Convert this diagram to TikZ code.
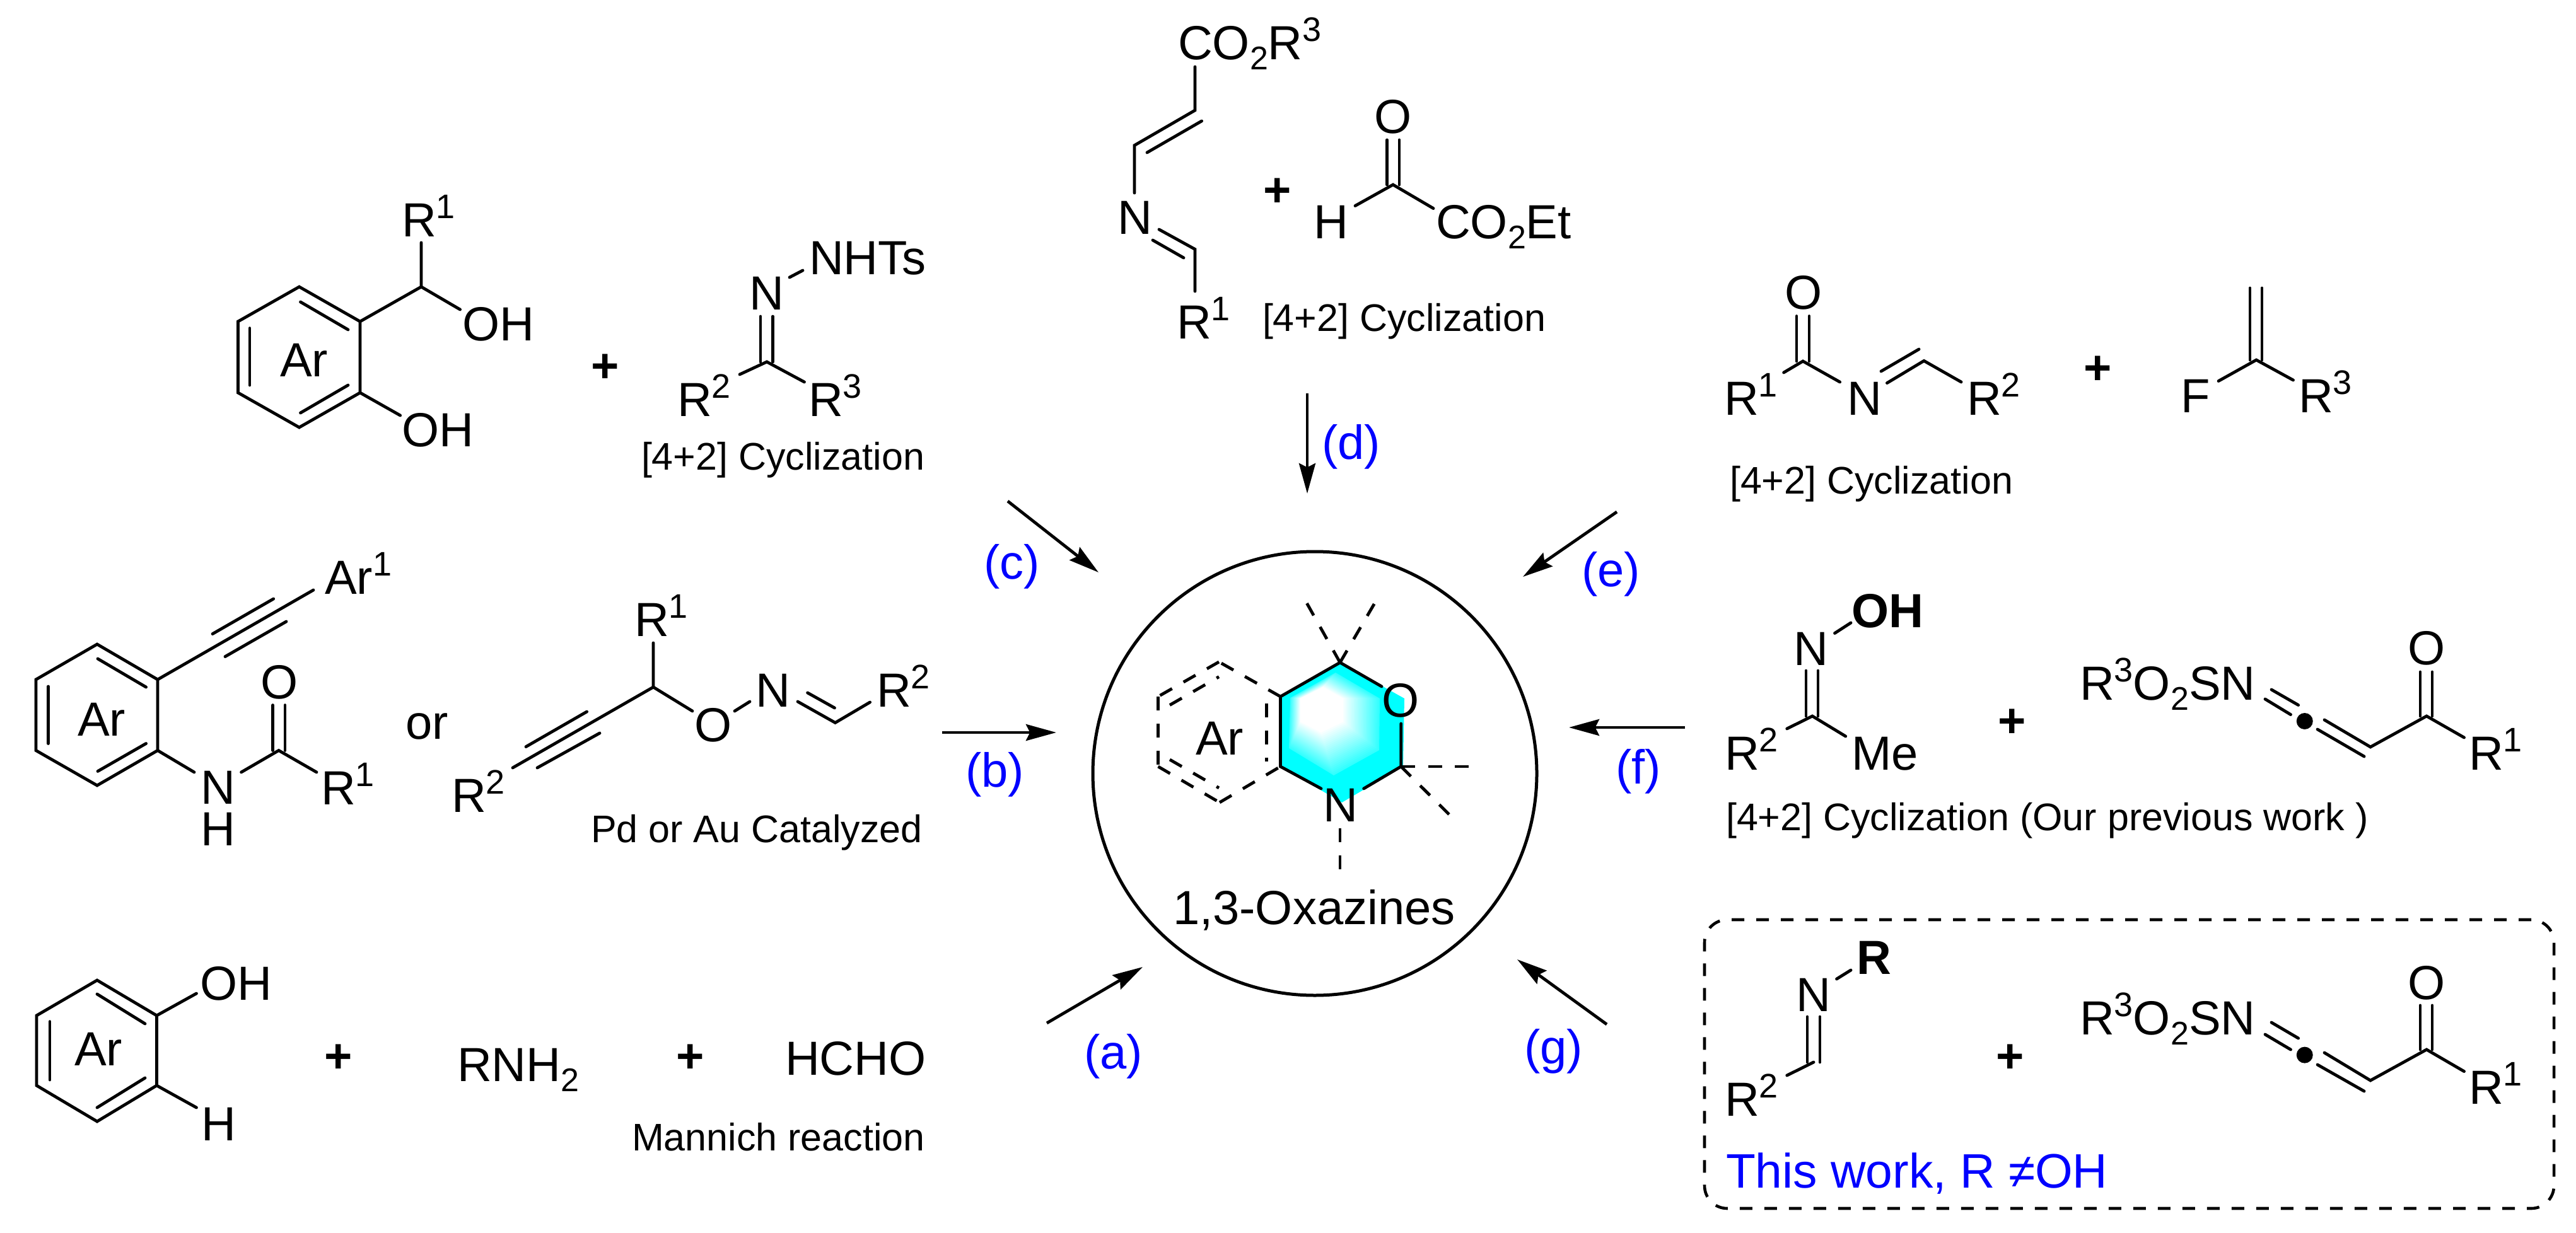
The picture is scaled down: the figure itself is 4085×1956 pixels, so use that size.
\documentclass[tikz,border=0pt]{standalone}
\usepackage{fontspec}
\usetikzlibrary{arrows.meta,calc}
\setmainfont{Liberation Sans}
\definecolor{cy}{RGB}{0,255,255}
\definecolor{lblue}{RGB}{0,0,255}
\newcommand\upn[1]{\raisebox{7.25pt}{\fontsize{13.5}{13.5}\selectfont #1}}
\newcommand\dnn[1]{\raisebox{-4pt}{\fontsize{13}{13}\selectfont #1}}
\tikzset{
  lbl/.style={anchor=base west,inner sep=0pt,outer sep=0pt,font=\fontsize{19}{19}\selectfont},
  sml/.style={lbl,font=\fontsize{15.25}{15.25}\selectfont},
  tag/.style={lbl,text=lblue},
  plusn/.style={anchor=center,inner sep=0pt,outer sep=0pt,font=\fontsize{19}{19}\selectfont\bfseries},
  bond/.style={line width=1.2pt,line join=miter,line cap=round},
  dbond/.style={line width=1.2pt,dash pattern=on 5.5pt off 5.2pt},
  rxn/.style={line width=1.2pt,-{Stealth[length=12pt,width=6.5pt,inset=1.6pt]}},
  dot/.style={circle,fill=black,inner sep=0pt,minimum size=6.5pt}
}
\begin{document}
\begin{tikzpicture}[x=0.25pt,y=-0.25pt]
\useasboundingbox (0,0) rectangle (4085,1956);
% ---- coordinates
\foreach \n/\x/\y in {
 g1/2046/1107,g2/2118/1067,g3/2188/1108,g4/2187/1190,g5/2115/1230,g6/2044/1187,
 gi1/2062/1108,gi2/2098/1090,gi3/2130/1108,gi4/2130/1145,gi5/2095/1162,gi6/2062/1145,
 o1/2030.5/1105,o2/2125/1051,o3/2227/1108,o4/2225/1216,o5/2128/1273,o6/2030.5/1216,
 ox1/2191/1089,ox2/2221.7/1148,ox3/2221.7/1216,ox4/2162.6/1251,ox5/2095/1251,
 ar1/1933/1050,ar2/1836.5/1105,ar3/1836.5/1216,ar4/1934/1273,
 ai1/2008.7/1116,ai2/2008.7/1208,ai3/1855/1118.5,ai4/1933/1073.6,ai5/1855/1205,ai6/1933/1250,
 s1/2069.6/952,s2/2182.7/952,s3/2335/1216,s4/2303/1297,s5/2125/1314,s6/2125/1384,
 % arrows
 aa1/1660/1623,aa2/1812/1534,ab1/1494/1162,ab2/1675/1162,ac1/1598/795,ac2/1742/908,
 ad1/2073/624,ad2/2073/783,ae1/2564/812,ae2/2415/915,af1/2672/1154,af2/2488/1154,ag1/2548/1625,ag2/2406/1522,
 % molecule c
 c1/474.5/455,c2/571/510,c3/571/623,c4/474.5/678,c5/377.5/623,c6/377.5/510,
 ci1/396/520.6,ci2/396/611,ci3/476.5/479,ci4/552/523,ci5/552/611,ci6/476.5/655,
 c7/668/455,c8/668/385,c9/729.6/491,c10/634.7/659,
 h1/1216/574,h2/1206/502,h3/1206/574,h4/1225.5/502,h5/1225.5/574,h6/1173/594,h7/1275.5/606,h8/1252/440,h9/1273/429,
 % molecule b1
 b1/154/1022,b2/250/1078,b3/250/1190.5,b4/154/1246,b5/57/1190.5,b6/57/1078,
 bi1/76.5/1089,bi2/76.5/1179.5,bi3/155/1045,bi4/231.6/1090,bi5/231.6/1179.5,bi6/155/1223.5,
 b7/497/936,bt1/337/1005.6,bt2/433.7/950,bt3/357/1041.6,bt4/454/986,
 b8/308/1225,b9/382.6/1225,b10/442/1190.5,b11/502/1225,
 b12/432.7/1118.6,b13/432.7/1190.5,b14/452/1118.6,b15/452/1190.5,
 % molecule b2
 p1/1036/1090,p2/1036/1020,p3/1098/1128,p4/1165/1128,p5/1189/1113,p6/1265/1113,p7/1324.5/1146.5,
 p8/1280.6/1099,p9/1323.5/1123,p10/1379.6/1114,p11/813/1218,
 pt1/834/1184.6,pt2/930.6/1129,pt3/852/1218,pt4/951/1163,
 % molecule d
 d1/1895/106,d2/1895/175,d3/1799/230.6,d4/1905.6/192,d5/1819/242,d6/1799/306,
 d7/1838/364,d8/1895/395.4,d9/1828/381,d10/1877/409,d11/1895/462,
 y1/2209/293,y2/2199.6/222,y3/2199.6/293,y4/2219/222,y5/2219/293,y6/2149/326.5,y7/2273/330.6,
 % molecule e
 e1/2859/573,e2/2849/501.5,e3/2849/573,e4/2869/501.5,e5/2869/573,e6/2828.6/591,e7/2917.6/606,
 e8/2992.4/607.6,e9/3051/572.4,e10/2983/589,e11/3043/554,e12/3110/606,
 u1/3578/571,u2/3568/457,u3/3568/571,u4/3587/457,u5/3587/571,u6/3518/604.5,u7/3636.5/603,
 % molecule f
 f1/2909.5/1004.5,f2/2935/988,f3/2874/1136,f4/2864/1064,f5/2864/1136,f6/2883/1064,f7/2883/1136,f8/2833.7/1156,f9/2926.7/1168,
 k1/3602/1094,k2/3644.6/1118.5,k3/3592/1109,k4/3632.5/1133.6,k5/3686/1142,k6/3759/1185,k7/3675/1157,k8/3749/1200,
 k9/3848/1136,k10/3838/1066,k11/3838/1136,k12/3857/1066,k13/3857/1136,k14/3907.5/1170,
 % molecule g
 m1/2912.5/1553,m2/2935/1539,m3/2876/1685,m4/2866/1613,m5/2866/1685,m6/2886/1613,m7/2886/1685,m8/2833.7/1706,
 q1/3602/1622,q2/3644.6/1647,q3/3592/1641,q4/3632.5/1665,q5/3686/1670,q6/3759/1714,q7/3675/1689,q8/3749/1731,
 q9/3848/1665,q10/3838/1595,q11/3838/1665,q12/3857/1595,q13/3857/1665,q14/3907.5/1699.6,
 % molecule a
 w1/154/1555,w2/248.5/1611,w3/248.5/1722,w4/154/1779,w5/58/1722,w6/58/1611,
 wi1/79/1620.6,wi2/79/1713,wi3/154/1577,wi4/230/1624,wi5/230/1710,wi6/154/1757,
 w7/311.5/1576,w8/311.5/1757}
  \coordinate (\n) at (\x,\y);
% ---- cyan ring
\fill[cy] (o1)--(o2)--(o3)--(o4)--(o5)--(o6)--cycle;
\foreach \i in {0,...,24}{
  \pgfmathsetmacro\t{1-\i/24}
  \pgfmathsetmacro\c{80-\i*80/24}
  \fill[cy!\c!white] ($(gi1)!\t!(g1)$)--($(gi2)!\t!(g2)$)--($(gi3)!\t!(g3)$)--($(gi4)!\t!(g4)$)--($(gi5)!\t!(g5)$)--($(gi6)!\t!(g6)$)--cycle;
}
% ---- central circle and box
\node[circle,draw,line width=1.25pt,inner sep=0pt,outer sep=0pt,minimum size=176pt] (ring) at (2085,1227) {};
\node[rectangle,draw,rounded corners=9pt,line width=1.15pt,dash pattern=on 5pt off 4.75pt,inner sep=0pt,outer sep=0pt,minimum width=336.75pt,minimum height=114.5pt] (box) at (3376.5,1688) {};
% ---- oxazine
\draw[bond] (ox1)--(o2)--(o1)--(o6)--(ox5);
\draw[bond] (ox2)--(ox3)--(ox4);
\foreach \a/\b in {o1/ar1,ar1/ar2,ar2/ar3,ar3/ar4,ar4/o6,ai1/ai2,ai3/ai4,ai5/ai6,o2/s1,o2/s2,ox3/s3,ox3/s4,s5/s6}
  \draw[dbond] (\a)--(\b);
% ---- reaction arrows
\foreach \a/\b in {aa1/aa2,ab1/ab2,ac1/ac2,ad1/ad2,ae1/ae2,af1/af2,ag1/ag2}
  \draw[rxn] (\a)--(\b);
% ---- rings
\draw[bond] (c1)--(c2)--(c3)--(c4)--(c5)--(c6)--cycle;
\draw[bond] (b1)--(b2)--(b3)--(b4)--(b5)--(b6)--cycle;
\draw[bond] (w1)--(w2)--(w3)--(w4)--(w5)--(w6)--cycle;
\draw[bond] (p2)--(p1)--(p3);
\draw[bond] (d1)--(d2)--(d3)--(d6);
\draw[bond] (d7)--(d8)--(d11);
\draw[bond] (p6)--(p7)--(p10);
\draw[bond] (k5)--(k6)--(k9)--(k14);
\draw[bond] (q5)--(q6)--(q9)--(q14);
\draw[bond] (e8)--(e9)--(e12);
\draw[bond] (e6)--(e1)--(e7);
\draw[bond] (u6)--(u1)--(u7);
\draw[bond] (c8)--(c7)--(c9);
\draw[bond] (h6)--(h1)--(h7);
\draw[bond] (y6)--(y1)--(y7);
\draw[bond] (f8)--(f3)--(f9);
\draw[bond] (b9)--(b10)--(b11);
\foreach \a/\b in {ci1/ci2,ci3/ci4,ci5/ci6,c2/c7,c3/c10,h2/h3,h4/h5,h8/h9,
 bi1/bi2,bi3/bi4,bi5/bi6,b2/b7,bt1/bt2,bt3/bt4,b3/b8,b12/b13,b14/b15,
 p1/p11,pt1/pt2,pt3/pt4,p4/p5,p8/p9,
 d4/d5,d9/d10,y2/y3,y4/y5,
 e2/e3,e4/e5,e10/e11,u2/u3,u4/u5,
 f1/f2,f4/f5,f6/f7,k1/k2,k3/k4,k7/k8,k10/k11,k12/k13,
 m1/m2,m4/m5,m6/m7,m3/m8,q1/q2,q3/q4,q7/q8,q10/q11,q12/q13,
 wi1/wi2,wi3/wi4,wi5/wi6,w2/w7,w3/w8}
  \draw[bond] (\a)--(\b);
% ---- allene dots
\node[dot] (dotf) at (3654.7,1144) {};
\node[dot] (dotg) at (3654.7,1673.6) {};
% ---- centre labels
\node[lbl] (tAr0) at (1896,1197) {Ar};
\node[lbl] (tO0) at (2191,1137.5) {O};
\node[lbl] (tN0) at (2098,1303) {N};
\node[lbl] (tOx) at (1860,1466.5) {1,3-Oxazines};
% ---- tags
\node[tag] (ta) at (1719,1695) {(a)};
\node[tag] (tb) at (1531,1248) {(b)};
\node[tag] (tc) at (1560,918) {(c)};
\node[tag] (td) at (2096,729) {(d)};
\node[tag] (te) at (2508,930) {(e)};
\node[tag] (tf) at (2562,1243) {(f)};
\node[tag] (tg) at (2417,1687) {(g)};
% ---- molecule c labels
\node[lbl] (c_R) at (637,376) {R\upn{1}};
\node[lbl] (c_OH) at (733,541) {OH};
\node[lbl] (c_OH2) at (637,708) {OH};
\node[lbl] (c_Ar) at (444,598) {Ar};
\node[plusn] (c_pl) at (960,584) {+};
\node[lbl] (h_N) at (1188,492) {N};
\node[lbl] (h_Ts) at (1283,436) {NHTs};
\node[lbl] (h_R2) at (1074,660) {R\upn{2}};
\node[lbl] (h_R3) at (1282,660) {R\upn{3}};
\node[sml] (h_t) at (1017,745) {[4+2] Cyclization};
% ---- molecule b labels
\node[lbl] (b_Ar) at (123,1167) {Ar};
\node[lbl] (b_Ar1) at (515,942.5) {Ar\upn{1}};
\node[lbl] (b_O) at (413,1108) {O};
\node[lbl,align=left,font=\fontsize{19}{16.5}\selectfont] (b_N) at (318,1341) {N\\H};
\node[lbl] (b_R1) at (509,1276) {R\upn{1}};
\node[lbl] (b_or) at (643,1172) {or};
\node[lbl] (p_R1) at (1006,1009) {R\upn{1}};
\node[lbl] (p_O) at (1101,1176) {O};
\node[lbl] (p_N) at (1198,1121) {N};
\node[lbl] (p_R2) at (1390,1121) {R\upn{2}};
\node[lbl] (p_R2b) at (716,1288) {R\upn{2}};
\node[sml] (p_t) at (937,1336) {Pd or Au Catalyzed};
% ---- molecule d labels
\node[lbl] (d_CO) at (1868,94.4) {CO\dnn{2}R\upn{3}};
\node[lbl] (d_N) at (1772,372) {N};
\node[lbl] (d_R1) at (1866,538) {R\upn{1}};
\node[plusn] (d_pl) at (2025.6,305) {+};
\node[lbl] (y_O) at (2179,212) {O};
\node[lbl] (y_H) at (2083,378.6) {H};
\node[lbl] (y_CO) at (2277,378.6) {CO\dnn{2}Et};
\node[sml] (d_t) at (2002,525.5) {[4+2] Cyclization};
% ---- molecule e labels
\node[lbl] (e_R1) at (2734,658) {R\upn{1}};
\node[lbl] (e_O) at (2830,490.6) {O};
\node[lbl] (e_N) at (2929,658) {N};
\node[lbl] (e_R2) at (3119,658) {R\upn{2}};
\node[plusn] (e_pl) at (3327,587) {+};
\node[lbl] (u_F) at (3458,655) {F};
\node[lbl] (u_R3) at (3645,655) {R\upn{3}};
\node[sml] (e_t) at (2743,783) {[4+2] Cyclization};
% ---- molecule f labels
\node[lbl,font=\fontsize{19}{19}\selectfont\bfseries] (f_OH) at (2936,995.5) {OH};
\node[lbl] (f_N) at (2844,1055) {N};
\node[lbl] (f_R2) at (2735,1221) {R\upn{2}};
\node[lbl] (f_Me) at (2936,1221) {Me};
\node[plusn] (f_pl) at (3190.6,1147) {+};
\node[lbl] (f_S) at (3298,1110.6) {R\upn{3}O\dnn{2}SN};
\node[lbl] (f_O) at (3818,1054) {O};
\node[lbl] (f_R1) at (3915,1221) {R\upn{1}};
\node[sml] (f_t) at (2737,1317.6) {[4+2] Cyclization (Our previous work )};
% ---- molecule g labels
\node[lbl,font=\fontsize{19}{19}\selectfont\bfseries] (g_R) at (2944,1545.6) {R};
\node[lbl] (g_N) at (2848,1604) {N};
\node[lbl] (g_R2) at (2735,1770.7) {R\upn{2}};
\node[plusn] (g_pl) at (3187.6,1679.5) {+};
\node[lbl] (g_S) at (3298,1641) {R\upn{3}O\dnn{2}SN};
\node[lbl] (g_O) at (3818,1585) {O};
\node[lbl] (g_R1) at (3915,1751) {R\upn{1}};
\node[tag,font=\fontsize{19.2}{19.2}\selectfont] (g_t) at (2737,1884) {This work, R ≠OH};
% ---- molecule a labels
\node[lbl] (w_OH) at (317,1586.6) {OH};
\node[lbl] (w_H) at (319,1809) {H};
\node[lbl] (w_Ar) at (118,1690) {Ar};
\node[plusn] (w_pl) at (537,1679) {+};
\node[lbl] (w_RN) at (725,1715) {RNH\dnn{2}};
\node[plusn] (w_pl2) at (1094.5,1679) {+};
\node[lbl] (w_HC) at (1245,1705.6) {HCHO};
\node[sml] (w_t) at (1002,1825) {Mannich reaction};
\end{tikzpicture}
\end{document}
